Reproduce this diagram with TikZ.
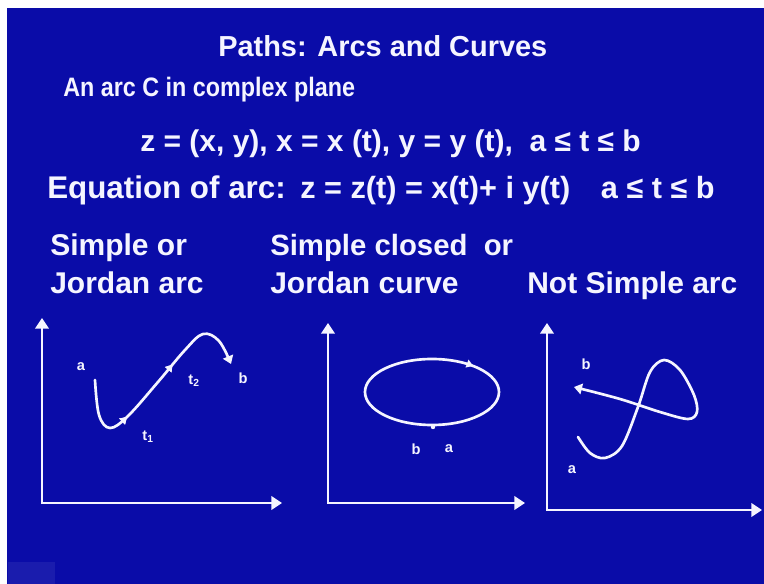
\documentclass[tikz,border=0pt]{standalone}
\usepackage{fontspec}
\setmainfont{Liberation Sans}
\usetikzlibrary{arrows.meta,decorations.markings}
\definecolor{bg}{RGB}{10,12,168}
\definecolor{fg}{RGB}{245,245,255}
\begin{document}
\begin{tikzpicture}[x=0.75pt,y=-0.75pt,
 txt/.style={text=fg,font=\bfseries\fontsize{22.5}{24}\selectfont,inner sep=0pt,anchor=base west},
 ttl/.style={txt,font=\bfseries\fontsize{21.7}{24}\selectfont},
 lbl/.style={text=fg,font=\bfseries\fontsize{11}{12}\selectfont,inner sep=0pt},
 axis/.style={draw=fg,line width=2.2pt,{Triangle[width=10pt,length=8pt]}-{Triangle[width=10pt,length=8pt]}},
 crv/.style={draw=fg,line width=2pt,line cap=round},
 tip/.style={-{Triangle[width=8pt,length=6pt]}},
 midarrow/.style={postaction={decorate},decoration={markings,
   mark=at position #1 with {\arrow{Triangle[width=6pt,length=5pt]}}}}]
\useasboundingbox (0,0) rectangle (764,584);
\fill[white] (0,0) rectangle (764,584);
\fill[bg] (7,8) rectangle (764,584);
\fill[bg!70!white,opacity=0.22] (8,562) rectangle (55,584);

% texts
\node[ttl] (title) at (218,57) {Paths: Arcs and Curves};
\node[txt,font=\bfseries\fontsize{20}{22}\selectfont] (l1) at (63,97) {\scalebox{0.875}[1]{An arc C in complex plane}};
\node[txt] (l2) at (140,152) {z = (x, y), x = x (t), y = y (t),\ \ a ≤ t ≤ b};
\node[txt,font=\bfseries\fontsize{23.5}{25}\selectfont] (l3a) at (47,199) {Equation of arc:};
\node[txt,font=\bfseries\fontsize{23}{25}\selectfont] (l3b) at (300,199) {z = z(t) = x(t)+ i y(t)\quad a ≤ t ≤ b};
\node[txt] (h1a) at (50,256) {Simple or};
\node[txt] (h1b) at (50,294) {Jordan arc};
\node[txt,font=\bfseries\fontsize{22}{24}\selectfont] (h2a) at (270,256) {Simple closed\ \ or};
\node[txt] (h2b) at (270,294) {Jordan curve};
\node[txt] (h3) at (527,294) {Not Simple arc};

% panel 1
\draw[axis] (42,318) -- (42,503) -- (282,503);
\draw[crv,tip,midarrow=0.32,postaction={decorate},decoration={markings,mark=at position 0.62 with {\arrow{Triangle[width=6pt,length=5pt]}}}]
  plot[smooth,tension=0.6] coordinates {(95,380) (99,415) (110,428) (128,416) (158,382) (185,350) (203,334) (219,341) (231,364)};
\node[lbl] (a1) at (81,367) {a};
\node[lbl] (b1) at (243,378) {b};
\node[lbl] (t1) at (148,437) {t\textsubscript{1}};
\node[lbl] (t2) at (194,381) {t\textsubscript{2}};

% panel 2
\draw[axis] (328,323) -- (328,503) -- (525,503);
\draw[crv,midarrow=0.63] (432,425) arc[start angle=90,end angle=450,x radius=67,y radius=33];
\fill[fg] (433,427) circle (2.2);
\node[lbl] (b2) at (416,449) {b};
\node[lbl] (a2) at (449,449) {a};

% panel 3
\draw[axis] (547,323) -- (547,510) -- (762,510);
\draw[crv,tip] plot[smooth,tension=0.55] coordinates {(578,437) (590,453) (605,458) (622,446) (638,407) (650,372) (664,360) (680,370) (694,395) (697,412) (688,419) (660,412) (620,399) (574,387)};
\node[lbl] (b3) at (586,364) {b};
\node[lbl] (a3) at (572,470) {a};
\end{tikzpicture}
\end{document}
